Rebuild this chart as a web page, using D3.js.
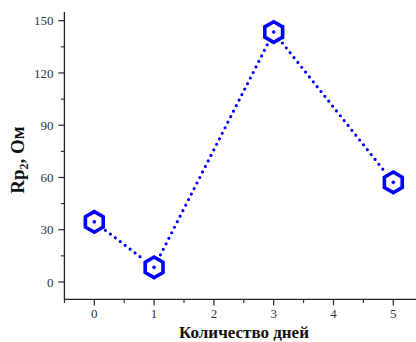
<!DOCTYPE html>
<html><head><meta charset="utf-8">
<script src="https://cdn.jsdelivr.net/npm/d3@7"></script>
<style>html,body{margin:0;padding:0;background:#fff;overflow:hidden}</style>
</head><body>
<svg id="c" width="416" height="342"></svg>
<script>
const days = [0, 1, 3, 5];
const rp2 = [34.5, 8.4, 143.5, 57.2];
const xTicks = [0, 1, 2, 3, 4, 5];
const yTicks = [0, 30, 60, 90, 120, 150];
const xTitle = "Количество дней";
const yTitleMain = "Rp";
const yTitleSub = "2";
const yTitleUnit = ", Ом";

const svg = d3.select("#c");
const x = d3.scaleLinear().domain([-0.5, 5.5]).range([64.4, 423.2]);
const y = d3.scaleLinear().domain([-10, 155]).range([299.4, 12]);
const serif = "'Liberation Serif','Times New Roman',serif";
const axisColor = "#222";

// y axis
const gy = svg.append("g").attr("transform", `translate(${x(-0.5)},0)`);
gy.append("line").attr("y1", y(-10)).attr("y2", y(155)).attr("stroke", axisColor).attr("stroke-width", 1.3);
gy.selectAll(".maj").data(yTicks).join("line").attr("x1", -6).attr("x2", 0)
  .attr("y1", d => y(d)).attr("y2", d => y(d)).attr("stroke", axisColor).attr("stroke-width", 1.2);
gy.selectAll(".min").data(d3.range(15, 150, 30)).join("line").attr("x1", -3.5).attr("x2", 0)
  .attr("y1", d => y(d)).attr("y2", d => y(d)).attr("stroke", axisColor).attr("stroke-width", 1.1);
gy.selectAll("text").data(yTicks).join("text").attr("x", -11).attr("y", d => y(d)).attr("dy", "0.35em")
  .attr("text-anchor", "end").attr("font-family", serif).attr("font-size", 13).attr("fill", "#333").text(d => d);

// x axis
const gx = svg.append("g").attr("transform", `translate(0,${y(-10)})`);
gx.append("line").attr("x1", x(-0.5)).attr("x2", x(5.5)).attr("stroke", axisColor).attr("stroke-width", 1.3);
gx.selectAll(".maj").data(xTicks).join("line").attr("y1", 0).attr("y2", 6)
  .attr("x1", d => x(d)).attr("x2", d => x(d)).attr("stroke", axisColor).attr("stroke-width", 1.2);
gx.selectAll(".min").data(d3.range(-0.5, 5.6, 1)).join("line").attr("y1", 0).attr("y2", 3.5)
  .attr("x1", d => x(d)).attr("x2", d => x(d)).attr("stroke", axisColor).attr("stroke-width", 1.1);
gx.selectAll("text").data(xTicks).join("text").attr("x", d => x(d)).attr("y", 19)
  .attr("text-anchor", "middle").attr("font-family", serif).attr("font-size", 13).attr("fill", "#333").text(d => d);

// titles
svg.append("text").attr("x", 244).attr("y", 338).attr("text-anchor", "middle")
  .attr("font-family", serif).attr("font-weight", "bold").attr("font-size", 17).attr("fill", "#111").text(xTitle);
const yt = svg.append("text").attr("transform", "translate(24,160) rotate(-90)").attr("text-anchor", "middle")
  .attr("font-family", serif).attr("font-weight", "bold").attr("font-size", 19).attr("fill", "#111");
yt.append("tspan").text(yTitleMain);
yt.append("tspan").attr("font-size", 12).attr("dy", 4).text(yTitleSub);
yt.append("tspan").attr("dy", -4).text(yTitleUnit);

// data
const pts = days.map((d, i) => [x(d), y(rp2[i])]);
const blue = "#0000ff";
const gap = 14;
for (let i = 0; i < pts.length - 1; i++) {
  const [x1, y1] = pts[i], [x2, y2] = pts[i + 1];
  const L = Math.hypot(x2 - x1, y2 - y1), ux = (x2 - x1) / L, uy = (y2 - y1) / L;
  svg.append("line").attr("x1", x1 + ux * gap).attr("y1", y1 + uy * gap)
    .attr("x2", x2 - ux * gap).attr("y2", y2 - uy * gap)
    .attr("stroke", blue).attr("stroke-width", 3.2).attr("stroke-linecap", "round")
    .attr("stroke-dasharray", "0,6.2");
}
const r = 10.3;
const hex = d3.range(6).map(k => { const a = (-90 + 60 * k) * Math.PI / 180; return [r * Math.cos(a), r * Math.sin(a)]; });
const hexPath = "M" + hex.map(p => p.join(",")).join("L") + "Z";
const g = svg.selectAll(".pt").data(pts).join("g").attr("transform", d => `translate(${d[0]},${d[1]})`);
g.append("path").attr("d", hexPath).attr("fill", "none").attr("stroke", blue).attr("stroke-width", 3.6).attr("stroke-linejoin", "miter");
g.append("circle").attr("r", 1.8).attr("fill", blue);
</script>
</body></html>
